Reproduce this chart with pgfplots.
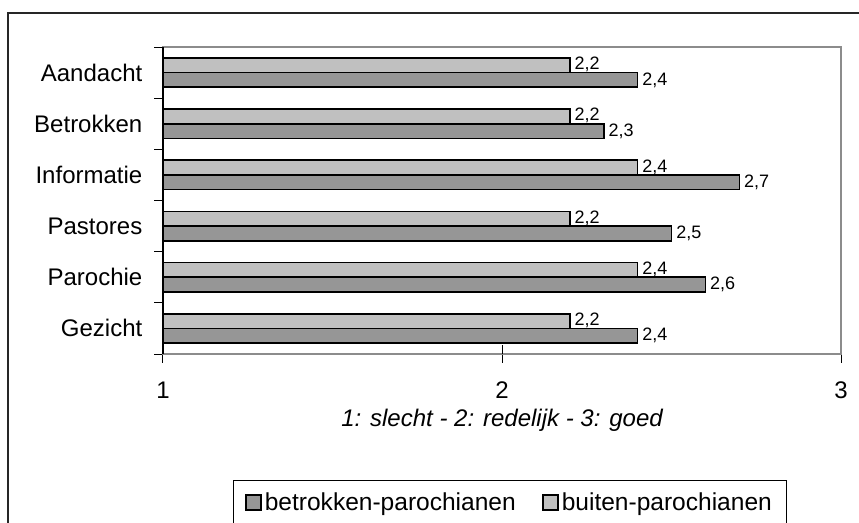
\documentclass[border=0pt]{standalone}
\usepackage{fontspec}
\setmainfont{Liberation Sans}
\usepackage{pgfplots}
\pgfplotsset{compat=1.18}
\definecolor{darkbar}{RGB}{150,150,150}
\definecolor{lightbar}{RGB}{192,192,192}
\definecolor{framegray}{RGB}{140,140,140}
\begin{document}
\begin{tikzpicture}
\useasboundingbox (-122.25pt,-126pt) rectangle (522pt,265.5pt);
\fill[white] (-122.25pt,-126pt) rectangle (522pt,265.5pt);
\draw[line width=0.9pt, black!85] (-116.25pt,-140pt) -- (-116.25pt,255.75pt) -- (540pt,255.75pt);
\begin{axis}[
  at={(0pt,0pt)}, anchor=south west,
  scale only axis, width=508.5pt, height=230.25pt,
  xmin=1, xmax=3, ymin=-0.5, ymax=5.5,
  axis line style={draw=framegray, line width=1.5pt},
  xtick={1,2,3},
  ytick={-0.5,0.5,...,5.5},
  yticklabels={,,,,,,},
  extra y ticks={0,1,2,3,4,5},
  extra y tick labels={Gezicht,Parochie,Pastores,Informatie,Betrokken,Aandacht},
  extra y tick style={major tick length=0pt, tick style={draw=none}},
  xtick pos=left, ytick pos=left,
  tick align=outside,
  major tick length=6.5pt,
  tick style={black, line width=0.75pt},
  ticklabel style={font=\fontsize{18}{21}\selectfont},
  /pgf/number format/assume math mode=true,
  xticklabel style={anchor=base, yshift=-26.5pt},
  yticklabel style={anchor=base east, xshift=-12pt, yshift=-6.4pt},
  xlabel={1: slecht - 2: redelijk - 3: goed},
  xlabel style={at={(axis description cs:0.5,0)}, anchor=base, yshift=-54pt, font=\fontsize{18}{21}\selectfont\itshape},
  legend columns=2,
  legend style={at={(axis description cs:0.10324,-0.41042)}, anchor=north west, draw=black, line width=0.75pt, font=\fontsize{18.4}{21}\selectfont, inner xsep=9pt, inner ysep=7pt, /tikz/every even column/.append style={column sep=18pt}},
  legend image code/.code={\draw[#1, line width=1.3pt] (0pt,-5.6pt) rectangle (11.2pt,5.6pt);},
  clip=false,
]
\addplot[xbar, bar width=11pt, bar shift=-5.5pt, fill=darkbar, draw=black, line width=1.2pt,
  point meta=x,
  nodes near coords={\pgfmathprintnumber[use comma,fixed,fixed zerofill,precision=1]{\pgfplotspointmeta}},
  every node near coord/.append style={font=\fontsize{13.5}{16}\selectfont, black, inner sep=2pt, xshift=1pt, yshift=-5.5pt}]
  coordinates {(2.4,5) (2.3,4) (2.7,3) (2.5,2) (2.6,1) (2.4,0)};
\addlegendentry{betrokken-parochianen}
\addplot[xbar, bar width=11pt, bar shift=5.5pt, fill=lightbar, draw=black, line width=1.2pt,
  point meta=x,
  nodes near coords={\pgfmathprintnumber[use comma,fixed,fixed zerofill,precision=1]{\pgfplotspointmeta}},
  every node near coord/.append style={font=\fontsize{13.5}{16}\selectfont, black, inner sep=2pt, xshift=1pt, yshift=6pt}]
  coordinates {(2.2,5) (2.2,4) (2.4,3) (2.2,2) (2.4,1) (2.2,0)};
\addlegendentry{buiten-parochianen}
\draw[black, line width=1pt] (rel axis cs:0,0) -- (rel axis cs:0,1);
\draw[black, line width=0.75pt] (axis cs:2,-0.5) -- ++(0pt,6.5pt);
\end{axis}
\end{tikzpicture}
\end{document}
